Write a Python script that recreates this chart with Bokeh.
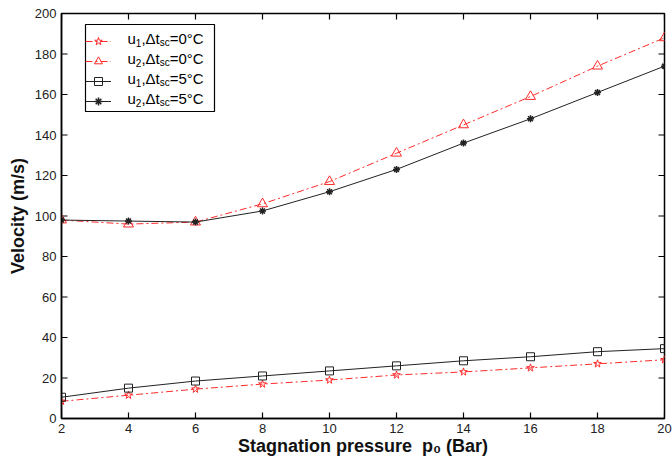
from bokeh.plotting import figure
from bokeh.models import Legend, LegendItem, FixedTicker, Range1d
from bokeh.core.properties import value
from bokeh.embed import file_html
from bokeh.resources import INLINE

# ---- data ----
pressure = [2, 4, 6, 8, 10, 12, 14, 16, 18, 20]
u1_dt0 = [8.5, 11.5, 14.5, 17, 19, 21.5, 23, 25, 27, 29]
u2_dt0 = [98, 96, 97, 106, 117, 131, 145, 159, 174, 188]
u1_dt5 = [10.5, 15, 18.5, 21, 23.5, 26, 28.5, 30.5, 33, 34.5]
u2_dt5 = [98, 97.5, 97, 102.5, 112, 123, 136, 148, 161, 174]
x_ticks = [2, 4, 6, 8, 10, 12, 14, 16, 18, 20]
y_ticks = [0, 20, 40, 60, 80, 100, 120, 140, 160, 180, 200]
legend_parts = [
    ("u", "1", ",\u0394t", "sc", "=0\u00b0C"),
    ("u", "2", ",\u0394t", "sc", "=0\u00b0C"),
    ("u", "1", ",\u0394t", "sc", "=5\u00b0C"),
    ("u", "2", ",\u0394t", "sc", "=5\u00b0C"),
]
x_min, x_max = 2, 20
y_min, y_max = 0, 200

RED = "#ff2a2a"
BLK = "#222222"
FONT = "Liberation Sans"

# ---- layout (pixels) ----
W, H = 672, 462
B_LEFT, B_RIGHT, B_TOP, B_BOTTOM = 61, 8, 13, 44
FW, FH = W - B_LEFT - B_RIGHT, H - B_TOP - B_BOTTOM
PX_X = (x_max - x_min) / FW      # data units per pixel
PX_Y = (y_max - y_min) / FH
TICK = 6

p = figure(width=W, height=H, output_backend="svg", toolbar_location=None,
           x_range=Range1d(x_min, x_max), y_range=Range1d(y_min, y_max),
           min_border_left=B_LEFT, min_border_right=B_RIGHT,
           min_border_top=B_TOP, min_border_bottom=B_BOTTOM)
p.background_fill_color = "white"
p.border_fill_color = "white"
p.outline_line_color = "black"
p.outline_line_width = 1.5
p.xgrid.visible = False
p.ygrid.visible = False

for ax, ticks in ((p.xaxis[0], x_ticks), (p.yaxis[0], y_ticks)):
    ax.ticker = FixedTicker(ticks=ticks)
    ax.minor_tick_line_color = None
    ax.major_tick_in = 0
    ax.major_tick_out = 0
    ax.axis_line_color = "black"
    ax.axis_line_width = 1.5
    ax.major_label_text_font = FONT
    ax.major_label_text_font_size = "13px"
    ax.major_label_text_color = "#222222"
    ax.axis_label_text_font = FONT
    ax.axis_label_text_font_size = "18px"
    ax.axis_label_text_font_style = "bold"
    ax.axis_label_text_color = "#111111"

p.xaxis.axis_label = "Stagnation pressure\u00a0\u00a0p\u2080 (Bar)"
p.yaxis.axis_label = "Velocity (m/s)"
p.xaxis.major_label_standoff = 5
p.xaxis.axis_label_standoff = 0
p.yaxis.major_label_standoff = 5
p.yaxis.axis_label_standoff = 4

# inward tick marks on all four edges
tick_len_x = TICK * PX_X
tick_len_y = TICK * PX_Y
n_x, n_y = len(x_ticks), len(y_ticks)
p.segment(x0=x_ticks, y0=[y_min] * n_x, x1=x_ticks, y1=[y_min + tick_len_y] * n_x,
          line_color="black", line_width=1.2)
p.segment(x0=x_ticks, y0=[y_max] * n_x, x1=x_ticks, y1=[y_max - tick_len_y] * n_x,
          line_color="black", line_width=1.2)
p.segment(x0=[x_min] * n_y, y0=y_ticks, x1=[x_min + tick_len_x] * n_y, y1=y_ticks,
          line_color="black", line_width=1.2)
p.segment(x0=[x_max] * n_y, y0=y_ticks, x1=[x_max - tick_len_x] * n_y, y1=y_ticks,
          line_color="black", line_width=1.2)

# legend frame (pixels from the frame's top-left corner)
LG_L, LG_T, LG_W, LG_H = 24, 11, 129, 87
p.quad(left=[x_min + LG_L * PX_X], right=[x_min + (LG_L + LG_W) * PX_X],
       top=[y_max - LG_T * PX_Y], bottom=[y_max - (LG_T + LG_H) * PX_Y],
       fill_color="white", line_color="black", line_width=1.2)

r1l = p.line(pressure, u1_dt0, line_color=RED, line_width=1, line_dash="7 3 2 3")
r1m = p.scatter(pressure, u1_dt0, marker="star", size=8, line_color=RED, fill_color=None, line_width=1)
r2l = p.line(pressure, u2_dt0, line_color=RED, line_width=1, line_dash="7 3 2 3")
r2m = p.scatter(pressure, u2_dt0, marker="triangle", size=10, line_color=RED, fill_color=None, line_width=1)
r3l = p.line(pressure, u1_dt5, line_color=BLK, line_width=1)
r3m = p.scatter(pressure, u1_dt5, marker="square", size=8, line_color=BLK, fill_color=None, line_width=1)
r4l = p.line(pressure, u2_dt5, line_color=BLK, line_width=1)
r4m = p.scatter(pressure, u2_dt5, marker="asterisk", size=7, line_color=BLK, line_width=1.5)

items = [LegendItem(label="\u00a0", renderers=[r1l, r1m]),
         LegendItem(label="\u00a0", renderers=[r2l, r2m]),
         LegendItem(label="\u00a0", renderers=[r3l, r3m]),
         LegendItem(label="\u00a0", renderers=[r4l, r4m])]
legend = Legend(items=items, location=(LG_L, FH - LG_T - LG_H), margin=0, padding=4, spacing=0,
                glyph_width=26, glyph_height=20, label_height=20, label_width=81,
                label_standoff=10, label_text_font_size="10px",
                border_line_color=None, background_fill_alpha=0)
p.add_layout(legend, "center")

# legend texts with subscripts: anchored at the frame's top-left corner, offset in pixels
em = {"u": 0.556, "1": 0.556, "2": 0.556, "5": 0.556, "0": 0.556, ",": 0.278,
      "\u0394": 0.668, "t": 0.278, "s": 0.5, "c": 0.5, "=": 0.584, "\u00b0": 0.4, "C": 0.722}

def wid(s, size):
    return sum(em.get(ch, 0.55) for ch in s) * size

txt, xo, yo, fs = [], [], [], []
for i, parts in enumerate(legend_parts):
    base = LG_T + 4 + 20 * i + 10
    x = 66
    for j, part in enumerate(parts):
        sub = j in (1, 3)
        size = 10 if sub else 15
        txt.append(part)
        xo.append(x)
        yo.append(base + (4 if sub else 0))
        fs.append(f"{size}px")
        x += wid(part, size)

p.text(x=[x_min] * len(txt), y=[y_max] * len(txt), text=txt, x_offset=xo, y_offset=yo,
       text_font=value(FONT), text_font_size=fs, text_color="black",
       text_baseline="alphabetic", text_align="left")

open("out.html", "w").write(file_html(p, INLINE))
